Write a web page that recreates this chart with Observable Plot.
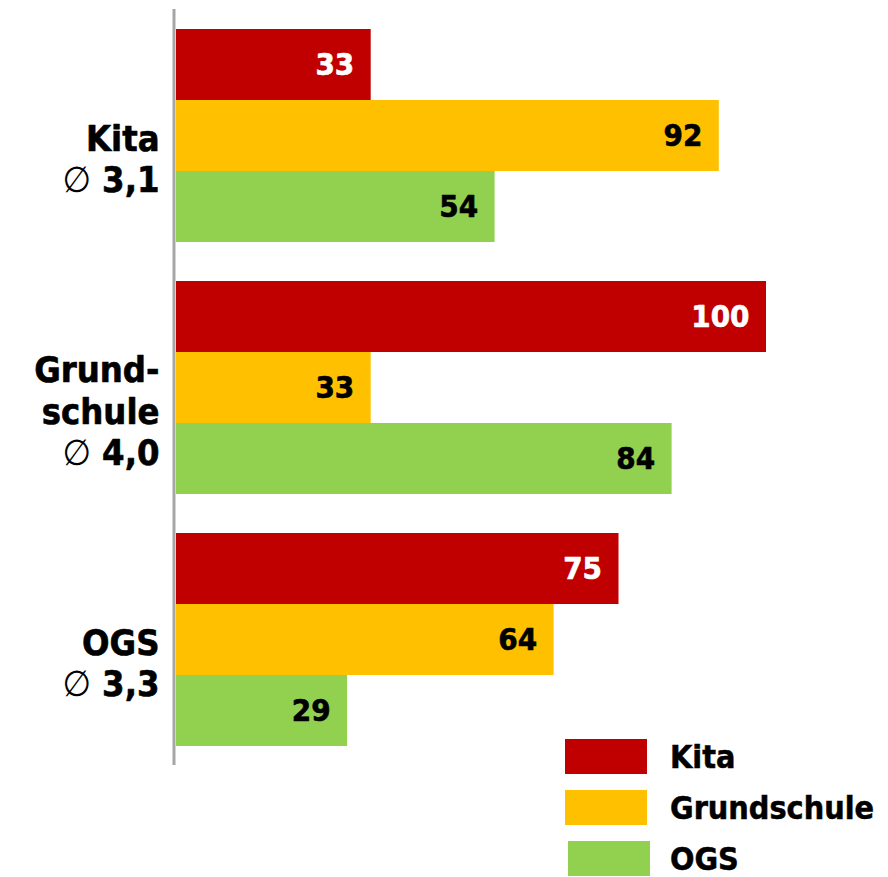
<!DOCTYPE html>
<html>
<head>
<meta charset="utf-8">
<script src="https://cdn.jsdelivr.net/npm/d3@7"></script>
<script src="https://cdn.jsdelivr.net/npm/@observablehq/plot@0.6"></script>
<style>
  html, body { margin: 0; padding: 0; background: #fff; }
  #wrap { position: relative; width: 888px; height: 877px; overflow: hidden; font-family: "DejaVu Sans Condensed", "DejaVu Sans", sans-serif; font-stretch: condensed; }
  #legend { position: absolute; left: 565px; top: 739px; }
  .row { display: flex; align-items: center; height: 35px; margin-bottom: 16px; }
  .sw { width: 82px; height: 35px; margin-right: 23px; }
  .lab { font-size: 32px; line-height: 32px; font-weight: bold; color: #000; -webkit-text-stroke: 0.5px #000; }
</style>
</head>
<body>
<div id="wrap"></div>
<script>
const groups = ["Kita", "Grundschule", "OGS"];
const groupLabels = ["Kita\n∅ 3,1", "Grund-\nschule\n∅ 4,0", "OGS\n∅ 3,3"];
const series = ["Kita", "Grundschule", "OGS"];
const kitaValues = [33, 100, 75];
const grundschuleValues = [92, 33, 64];
const ogsValues = [54, 84, 29];
const colors = ["#C00000", "#FFC000", "#92D050"];

const seriesValues = [kitaValues, grundschuleValues, ogsValues];
const data = [];
groups.forEach((g, i) => {
  series.forEach((s, j) => {
    data.push({group: g, series: s, value: seriesValues[j][i]});
  });
});
const labelData = groups.map((g, i) => ({group: g, label: groupLabels[i]}));

const W = 888, H = 877, mTop = 9, mBottom = 112;
const chart = Plot.plot({
  width: W,
  height: H,
  marginLeft: 176,
  marginRight: 122,
  marginTop: mTop,
  marginBottom: mBottom,
  style: {fontFamily: "'DejaVu Sans Condensed', 'DejaVu Sans', sans-serif", background: "white"},
  x: {domain: [0, 100], axis: null},
  y: {domain: series, padding: 0, axis: null},
  fy: {domain: groups, paddingInner: 0.15, paddingOuter: 0.075, axis: null, label: null},
  color: {domain: series, range: colors},
  marks: [
    Plot.barX(data, {fy: "group", y: "series", x: "value", fill: "series"}),
    Plot.text(data.filter(d => d.series === "Kita"), {
      fy: "group", y: "series", x: "value", text: d => String(d.value),
      textAnchor: "end", dx: -17, fill: "white", stroke: "white", strokeWidth: 0.6,
      fontSize: 31, fontWeight: "bold"
    }),
    Plot.text(data.filter(d => d.series !== "Kita"), {
      fy: "group", y: "series", x: "value", text: d => String(d.value),
      textAnchor: "end", dx: -17, fill: "black", stroke: "black", strokeWidth: 0.6,
      fontSize: 31, fontWeight: "bold"
    }),
    Plot.text(labelData, {
      fy: "group", text: "label", frameAnchor: "left", textAnchor: "end",
      dx: -17, dy: 23, fontSize: 36, fontWeight: "bold", lineHeight: 1.15,
      fill: "black", stroke: "black", strokeWidth: 0.6
    })
  ]
});

// Render the diameter sign in a thin weight, as in the reference
d3.select(chart).selectAll("tspan").each(function() {
  const t = this.textContent;
  if (t.startsWith("∅")) {
    const sel = d3.select(this);
    sel.text(null);
    sel.append("tspan").attr("font-weight", "normal").attr("stroke-width", 0).text("∅");
    sel.append("tspan").text(t.slice(1));
  }
});

const x0 = chart.scale("x").apply(0);
d3.select(chart).append("line")
  .attr("x1", x0 - 2).attr("x2", x0 - 2)
  .attr("y1", mTop).attr("y2", H - mBottom)
  .attr("stroke", "#A6A6A6").attr("stroke-width", 3);

const wrap = document.getElementById("wrap");
wrap.appendChild(chart);

const legend = document.createElement("div");
legend.id = "legend";
series.forEach((s, i) => {
  const row = document.createElement("div");
  row.className = "row";
  const sw = document.createElement("div");
  sw.className = "sw";
  sw.style.background = colors[i];
  if (i === 2) { sw.style.marginLeft = "3px"; sw.style.marginRight = "20px"; }
  const lab = document.createElement("span");
  lab.className = "lab";
  lab.textContent = s;
  row.appendChild(sw);
  row.appendChild(lab);
  legend.appendChild(row);
});
wrap.appendChild(legend);
</script>
</body>
</html>
